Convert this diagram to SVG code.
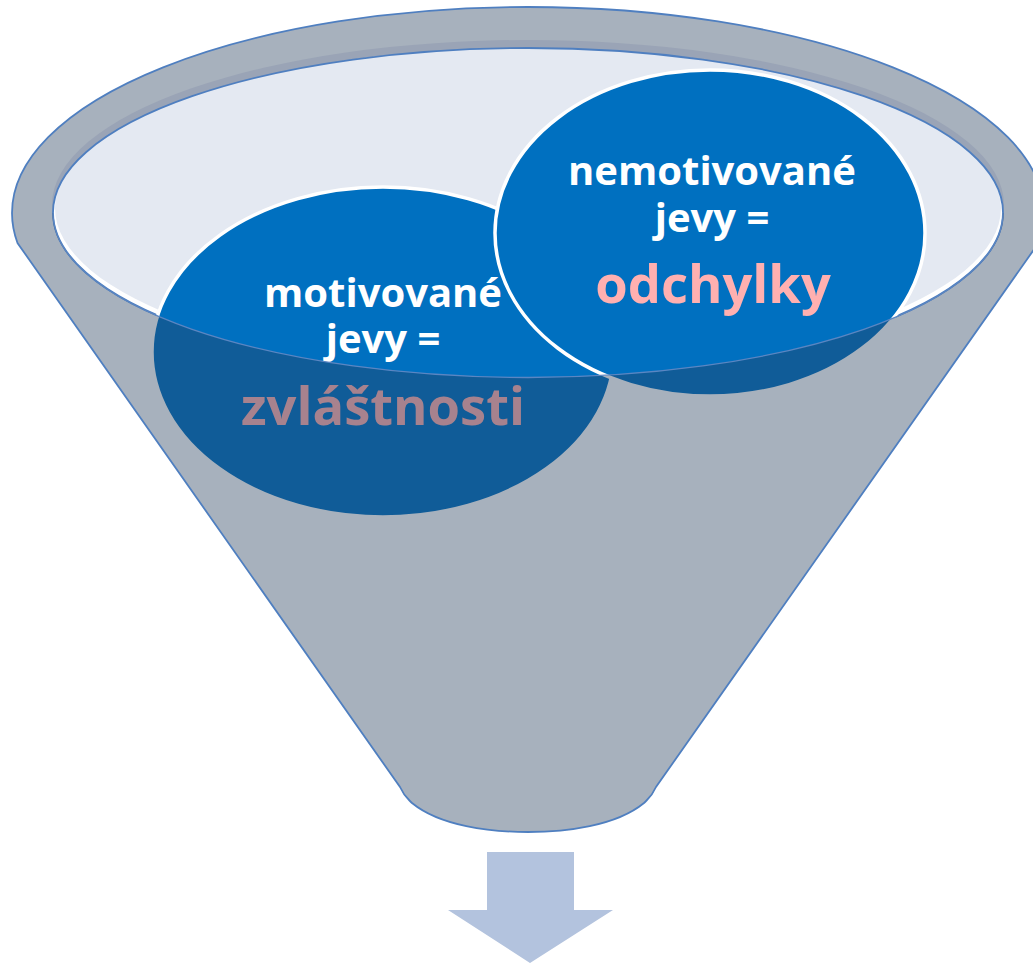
<svg xmlns="http://www.w3.org/2000/svg" width="1033" height="965" viewBox="0 0 1033 965">
<style>
.edge{fill:none;stroke:#4F7FC0;stroke-width:1.8}
.node{fill:#0070C0;stroke:#FFFFFF;stroke-width:3.5}
.t{font-family:"Open Sans","Liberation Sans",sans-serif;font-weight:700;text-anchor:middle}
.w{fill:#FFFFFF;font-size:40px}
.p{fill:#FFB0B0;font-size:52.5px}
</style>
<defs>
<clipPath id="innerClip"><ellipse cx="528" cy="212.5" rx="475" ry="164.5"/></clipPath>
</defs>
<rect width="1033" height="965" fill="#FFFFFF"/>
<g id="funnel-back">
<path d="M12,213 A516,206 0 0 1 1044,213 Z" fill="#A7B1BD"/>
<path class="edge" d="M12,213 A516,206 0 0 1 1044,213"/>
<ellipse cx="528" cy="205" rx="476" ry="165" fill="#9AA4B6"/>
</g>
<g id="funnel-inner">
<ellipse cx="528" cy="212.5" rx="475" ry="164.5" fill="#FFFFFF"/>
<ellipse cx="528" cy="208" rx="473" ry="163" fill="#E4E9F2" clip-path="url(#innerClip)"/>
<ellipse cx="528" cy="212.5" rx="475" ry="164.5" fill="none" stroke="#4F7FC0" stroke-width="1.8"/>
</g>
<g id="node-motivovane">
<ellipse class="node" cx="383" cy="352" rx="231" ry="165"/>
<text class="t w" x="383" y="307">motivované</text>
<text class="t w" x="383" y="353">jevy =</text>
<text class="t p" x="383" y="425">zvláštnosti</text>
</g>
<g id="node-nemotivovane">
<ellipse class="node" cx="710" cy="233" rx="215" ry="163"/>
<text class="t w" x="712" y="185">nemotivované</text>
<text class="t w" x="712" y="232">jevy =</text>
<text class="t p" x="713" y="303">odchylky</text>
</g>
<g id="funnel-front">
<path d="M53,213 L12,213 A516,206 0 0 0 17.5,243 L400,787 C404,796 406,797 412,803 C440,826 490,832 528,832 C566,832 616,826 644,803 C650,797 652,796 656,787 L1038.5,243 A516,206 0 0 0 1044,213 L1003,213 A475,164.5 0 0 1 53,213 Z" fill="rgb(39,63,94)" fill-opacity="0.408"/>
<path class="edge" d="M12,213 A516,206 0 0 0 17.5,243 L400,787 C404,796 406,797 412,803 C440,826 490,832 528,832 C566,832 616,826 644,803 C650,797 652,796 656,787 L1038.5,243 A516,206 0 0 0 1044,213"/>
<path d="M1003,213 A475,164.5 0 0 1 53,213" fill="none" stroke="#5B86C2" stroke-width="1.3"/>
</g>
<g id="connectors">
<path d="M487,852 H574 V910 H613 L530,963 L448,910 H487 Z" fill="#B3C3DE"/>
</g>
</svg>
